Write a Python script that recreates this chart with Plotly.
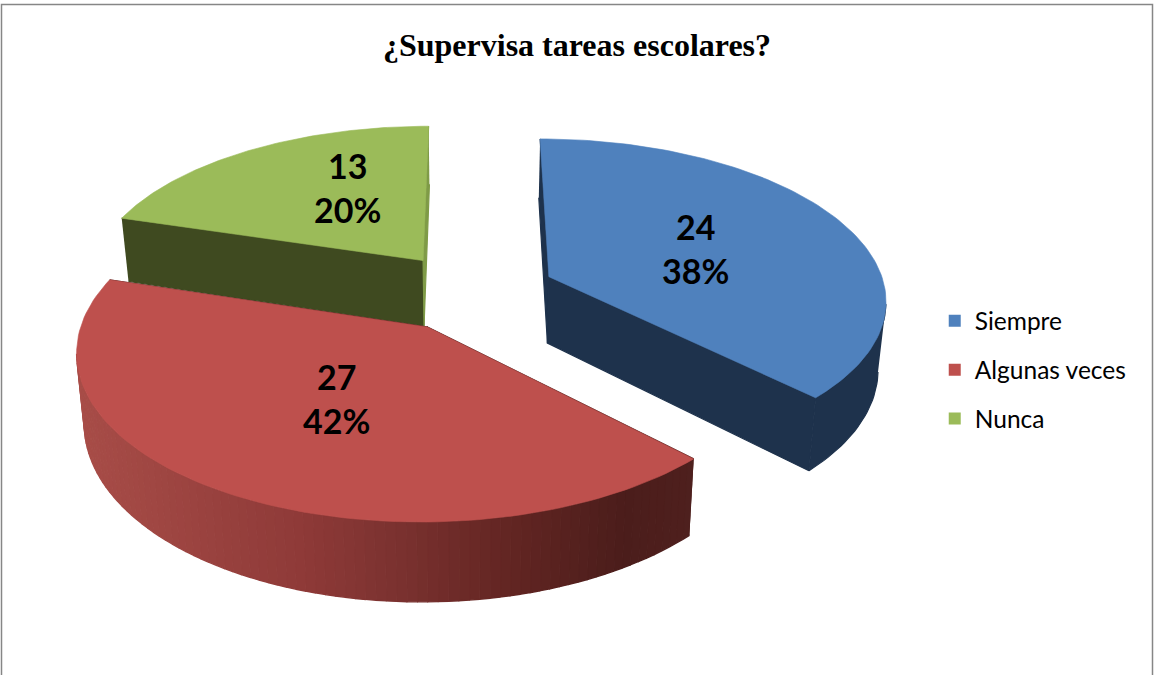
import math
import numpy as np
import plotly.graph_objects as go

# ---- data ----
title = "¿Supervisa tareas escolares?"
categories = ["Siempre", "Algunas veces", "Nunca"]
values = [24, 27, 13]
percent_labels = ["38%", "42%", "20%"]

# ---- styles ----
top_colors = ["#4F81BD", "#BE504D", "#9BBB59"]
wall_colors = ["#1E324C", "#4F201E", "#3F4A20"]
end_face_colors = ["#1E324C", "#4F201E", "#7F9B47"]
red_wall_x = [75, 300, 400, 500, 625, 700]
red_wall_rgb = [(168, 77, 72), (143, 58, 56), (122, 49, 47), (100, 38, 35), (75, 29, 27), (79, 32, 30)]

# ---- projection of the pie's own geometry (perspective camera) ----
CX, VY = 472.0, -930.0
A_TOP, A_BOT = 2582.0, 2532.0
B_TOP, B_BOT = 9359.0, 9359.0 * 1.055
DIST, EXPLODE = 7.66, 0.25
START_DEG = 0.0


def project(X, Z, bottom=False):
    X, Z = np.asarray(X, float), np.asarray(Z, float)
    a = A_BOT if bottom else A_TOP
    b = B_BOT if bottom else B_TOP
    return CX + a * X / (DIST - Z), VY + b / (DIST - Z)


def lerp_colour(x):
    parts = [np.interp(x, red_wall_x, [c[i] for c in red_wall_rgb]) for i in range(3)]
    return "rgb({:.0f},{:.0f},{:.0f})".format(*parts)


fig = go.Figure()


def poly(xs, ys, colour, line_w=0.6):
    fig.add_trace(go.Scatter(
        x=list(xs), y=list(ys), mode="lines", fill="toself", fillcolor=colour,
        line=dict(color=colour, width=line_w), hoverinfo="skip", showlegend=False,
    ))


total = sum(values)
edges = [START_DEG]
for v in values:
    edges.append(edges[-1] + 360.0 * v / total)

slices = []
for i, v in enumerate(values):
    a0, a1 = math.radians(edges[i]), math.radians(edges[i + 1])
    mid = (a0 + a1) / 2
    ox, oz = EXPLODE * math.sin(mid), -EXPLODE * math.cos(mid)
    t = np.linspace(a0, a1, 101)
    slices.append(dict(i=i, ox=ox, oz=oz, t=t, X=ox + np.sin(t), Z=oz - np.cos(t)))

# painter's order: far slices first
for s in sorted(slices, key=lambda q: q["oz"]):
    i, ox, oz, t, X, Z = s["i"], s["ox"], s["oz"], s["t"], s["X"], s["Z"]
    xt, yt = project(X, Z)
    xb, yb = project(X, Z, bottom=True)
    ax_t, ay_t = project(ox, oz)
    ax_b, ay_b = project(ox, oz, bottom=True)

    # radial faces
    poly([xt[0], ax_t, ax_b, xb[0]], [yt[0], ay_t, ay_b, yb[0]], wall_colors[i], line_w=1.2)
    poly([xt[-1], ax_t, ax_b, xb[-1]], [yt[-1], ay_t, ay_b, yb[-1]], end_face_colors[i], line_w=1.2)

    # outer wall: only where it faces the camera
    facing = np.sin(t) * (0 - X) + (-np.cos(t)) * (DIST - Z) > 0
    idx = np.where(facing)[0]
    if len(idx) > 1:
        if i == 1:
            for j in idx[:-1]:
                poly([xt[j], xt[j + 1], xb[j + 1], xb[j]], [yt[j], yt[j + 1], yb[j + 1], yb[j]],
                     lerp_colour((xt[j] + xt[j + 1]) / 2), line_w=1.4)
        else:
            poly(np.r_[xt[idx], xb[idx][::-1]], np.r_[yt[idx], yb[idx][::-1]], wall_colors[i], line_w=1.2)

    # top face
    poly(np.r_[ax_t, xt, ax_t], np.r_[ay_t, yt, ay_t], top_colors[i])

label_xy = {0: (695, 248), 1: (336, 398), 2: (347, 187)}
for i, v in enumerate(values):
    fig.add_annotation(
        x=label_xy[i][0], y=label_xy[i][1], xref="x", yref="y", showarrow=False,
        text=f"<b>{v}<br>{percent_labels[i]}</b>", align="center",
        font=dict(family="Lato, Carlito, sans-serif", size=34, color="#000000"),
        yanchor="middle", xanchor="center",
    )

# legend entries
for i, c in enumerate(categories):
    fig.add_trace(go.Scatter(
        x=[None], y=[None], mode="markers", name=c, legendgroup=c,
        marker=dict(symbol="square", size=16, color=top_colors[i]),
    ))

fig.update_layout(
    width=1154, height=675, margin=dict(l=0, r=0, t=0, b=0),
    paper_bgcolor="#FFFFFF", plot_bgcolor="#FFFFFF",
    xaxis=dict(range=[0, 1154], visible=False, fixedrange=True),
    yaxis=dict(range=[675, 0], visible=False, fixedrange=True),
    title=dict(text=f"<b>{title}</b>", x=0.5, xanchor="center", y=0.933, yanchor="middle",
               font=dict(family="Liberation Serif", size=32, color="#000000")),
    legend=dict(x=0.81, y=0.452, xanchor="left", yanchor="middle", tracegroupgap=14,
                font=dict(family="Lato, Carlito, sans-serif", size=24.5, color="#000000"),
                itemsizing="constant"),
    shapes=[
        dict(type="rect", xref="x", yref="y", x0=1.5, y0=4.5, x1=1152.5, y1=720,
             line=dict(color="#868686", width=1.5), fillcolor="rgba(0,0,0,0)", layer="below"),
    ],
)

fig.write_html("out.html", config=dict(displayModeBar=False),
               post_script="document.body.style.margin='0';")
